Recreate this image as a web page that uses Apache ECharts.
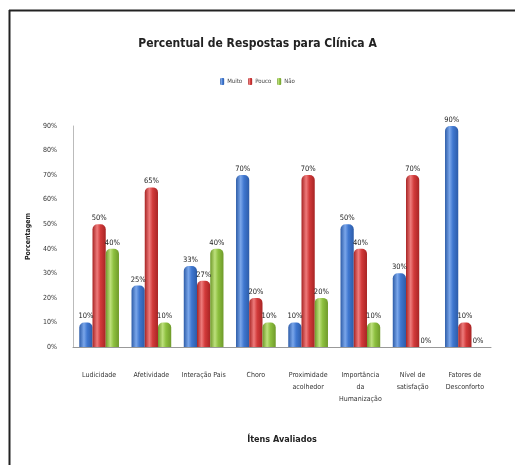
<!DOCTYPE html>
<html><head><meta charset="utf-8">
<script src="https://cdn.jsdelivr.net/npm/echarts@6/dist/echarts.min.js"></script>
<style>html,body{margin:0;padding:0;background:#fff}#c{width:515px;height:465px}</style>
</head><body><div id="c"></div>
<script>
const categories = ["Ludicidade","Afetividade","Interação Pais","Choro","Proximidade\nacolhedor","Importância\nda\nHumanização","Nível de\nsatisfação","Fatores de\nDesconforto"];
const muito = [10,25,33,70,10,50,30,90];
const pouco = [50,65,27,20,70,40,70,10];
const nao = [40,10,40,10,20,10,0,0];
const yTicks = [0,10,20,30,40,50,60,70,80,90];

const F = '"Liberation Sans Narrow","DejaVu Sans Condensed","Liberation Sans",Arial,sans-serif';
function grad(dark, mid, light){
  return new echarts.graphic.LinearGradient(0,0,1,0,[
    {offset:0,color:dark},{offset:0.35,color:light},{offset:0.6,color:mid},{offset:1,color:dark}]);
}
const chart = echarts.init(document.getElementById('c'));
const lbl = {show:true, position:'top', distance:2, fontSize:7.5, fontFamily:F, color:'#222', formatter: p => p.value + '%'};
chart.setOption({
  animation:false,
  title:{text:'Percentual de Respostas para Clínica A', left:'center', top:33,
    textStyle:{fontFamily:F, fontSize:12, fontWeight:'bold', color:'#222'}},
  legend:{data:['Muito','Pouco','Não'], top:73, left:'center', itemWidth:4, itemHeight:7, itemGap:6,
    textStyle:{fontSize:6, fontFamily:F, color:'#444', padding:[0,0,0,-2]}},
  grid:{left:73, right:24, top:126, bottom:118},
  xAxis:{type:'category', data:categories,
    axisLine:{lineStyle:{color:'#999'}}, axisTick:{show:false},
    axisLabel:{interval:0, fontSize:7, fontFamily:F, color:'#333', margin:22, lineHeight:12},
    name:'Ítens Avaliados', nameLocation:'middle', nameGap:88,
    nameTextStyle:{fontSize:9, fontWeight:'bold', fontFamily:F, color:'#222'}},
  yAxis:{type:'value', min:0, max:90, interval:10,
    axisLine:{show:true, lineStyle:{color:'#bbb'}}, axisTick:{show:false}, splitLine:{show:false},
    axisLabel:{fontSize:7, fontFamily:F, color:'#333', margin:16, formatter: v => yTicks.includes(v) ? v + '%' : ''},
    name:'Porcentagem', nameLocation:'middle', nameGap:33,
    nameTextStyle:{fontSize:7, fontWeight:'bold', fontFamily:F, color:'#222'}},
  series:[
    {name:'Muito', type:'bar', data:muito, barGap:'0%', barCategoryGap:'24%',
      itemStyle:{color:grad('#2d5ca8','#3f77d0','#7aa6ea'), borderRadius:[5,5,0,0]}, label:lbl},
    {name:'Pouco', type:'bar', data:pouco,
      itemStyle:{color:grad('#a82424','#d23a3a','#ee7b7b'), borderRadius:[5,5,0,0]}, label:lbl},
    {name:'Não', type:'bar', data:nao,
      itemStyle:{color:grad('#6f9a2a','#8dc03f','#bde07c'), borderRadius:[5,5,0,0]}, label:lbl}
  ],
  color:['#3f77d0','#d23a3a','#8dc03f'],
  graphic:[
    {type:'line', shape:{x1:9.5,y1:10,x2:9.5,y2:465}, style:{stroke:'#222', lineWidth:2}},
    {type:'line', shape:{x1:9,y1:10.5,x2:515,y2:10.5}, style:{stroke:'#222', lineWidth:2}}
  ]
});
</script></body></html>
